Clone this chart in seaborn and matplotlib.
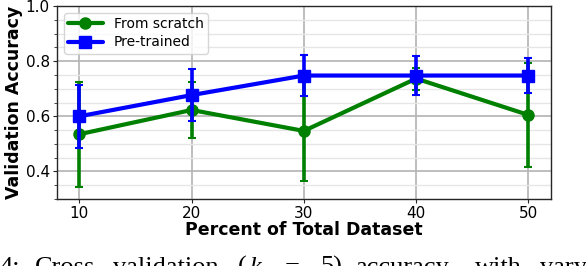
import numpy as np
import pandas as pd
import matplotlib
matplotlib.use("Agg")
import matplotlib.pyplot as plt
from matplotlib.ticker import MultipleLocator
import seaborn as sns

# values
percent = [10, 20, 30, 40, 50]
scratch_acc = [0.535, 0.623, 0.547, 0.737, 0.605]
scratch_err = [0.19, 0.10, 0.18, 0.04, 0.19]
pretrained_acc = [0.600, 0.677, 0.748, 0.748, 0.748]
pretrained_err = [0.115, 0.095, 0.075, 0.07, 0.065]

df = pd.DataFrame({
    "Percent": percent * 2,
    "Accuracy": scratch_acc + pretrained_acc,
    "Err": scratch_err + pretrained_err,
    "Model": ["From scratch"] * 5 + ["Pre-trained"] * 5,
})

sns.set_style("whitegrid", {"axes.edgecolor": "0.15", "grid.color": "0.7",
                            "xtick.bottom": True, "ytick.left": True,
                            "text.color": "black", "axes.labelcolor": "black",
                            "xtick.color": "black", "ytick.color": "black"})
plt.rcParams["font.family"] = ["DejaVu Sans"]

fig, ax = plt.subplots(figsize=(5.86, 2.66), dpi=100)
fig.subplots_adjust(left=0.097, right=0.94, top=0.977, bottom=0.252)

styles = {"From scratch": ("green", "o"), "Pre-trained": ("blue", "s")}
for name, grp in df.groupby("Model", sort=False):
    col, mk = styles[name]
    sns.lineplot(data=grp, x="Percent", y="Accuracy", ax=ax, color=col,
                 marker=mk, markersize=8, markerfacecolor=col,
                 markeredgecolor=col, markeredgewidth=1, linewidth=3,
                 label=name, zorder=3)
    ax.errorbar(grp["Percent"], grp["Accuracy"], yerr=grp["Err"], fmt="none",
                ecolor=col, elinewidth=2.6, capsize=3, capthick=1.5, zorder=3)

ax.set_xlim(8, 52)
ax.set_ylim(0.3, 1.0)
ax.set_xticks(percent)
ax.set_yticks([0.4, 0.6, 0.8, 1.0])
ax.yaxis.set_minor_locator(MultipleLocator(0.05))
ax.grid(which="major", color="0.7", linewidth=1.2)
ax.grid(which="minor", axis="y", color="0.9", linewidth=1)
ax.tick_params(axis="both", which="major", labelsize=11, length=3, color="0.15", pad=2)
ax.tick_params(axis="y", which="minor", length=2, color="0.15")
for s in ax.spines.values():
    s.set_linewidth(1)

ax.set_xlabel("Percent of Total Dataset", fontsize=12.5, fontweight="bold", labelpad=0)
ax.set_ylabel("Validation Accuracy", fontsize=12.5, fontweight="bold", labelpad=2)

leg = ax.legend(loc="upper left", fontsize=10, frameon=True, handlelength=2.5,
                borderaxespad=0.5, borderpad=0.3, labelspacing=0.3)
leg.get_frame().set_edgecolor("0.8")

# caption of the paper figure, cut off at the bottom
words = [("4:", 0, "normal"), ("Cross", 35, "normal"), ("validation", 113, "normal"),
         ("(", 238, "normal"), ("k", 249, "italic"), ("=", 285, "normal"),
         ("5)", 320, "normal"), ("accuracy", 355, "normal"), ("with", 475, "normal"),
         ("vary", 540, "normal")]
for w, px, st in words:
    fig.text(px / 586, -8 / 266, w, fontsize=19, family="Liberation Serif",
             style=st, ha="left", va="baseline")

fig.savefig("out.png", dpi=100)
